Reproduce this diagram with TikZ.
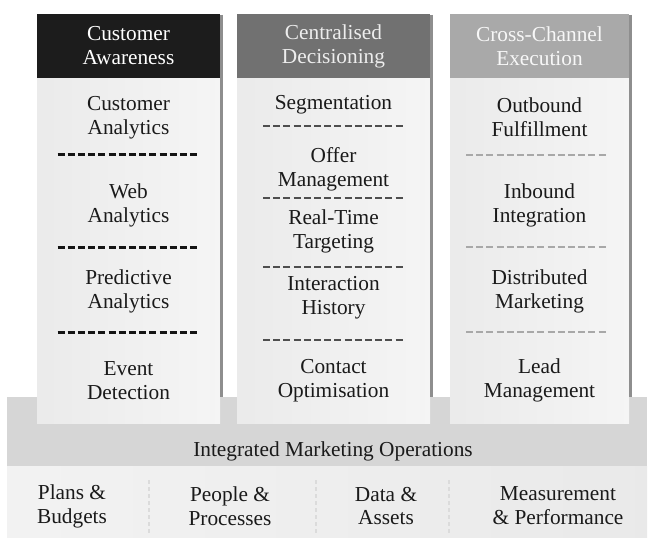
\documentclass[tikz,border=0pt]{standalone}
\usepackage{fontspec}
\setmainfont{Liberation Serif}
\definecolor{hdrA}{HTML}{1C1C1C}
\definecolor{hdrB}{HTML}{717171}
\definecolor{hdrC}{HTML}{A9A9A9}
\definecolor{bandgray}{HTML}{D6D6D6}
\definecolor{shadowgray}{HTML}{8E8E8E}
\definecolor{sepA}{HTML}{141414}
\definecolor{sepB}{HTML}{4E4E4E}
\definecolor{sepC}{HTML}{A8A8A8}
\definecolor{inktext}{HTML}{1A1A1A}
\begin{document}
\begin{tikzpicture}[x=1bp,y=-1bp,
  lbl/.style={align=center,inner sep=0pt,text=inktext,
              font=\fontsize{21.4}{24}\selectfont},
  hdrtext/.style={lbl,text=#1},
  rowsep/.style={dash pattern=on 7bp off 3.2bp,line width=2bp,draw=#1},
  basesep/.style={dash pattern=on 4bp off 3bp,line width=1.6bp,draw=gray!28},
  colbody/.style={left color=gray!16,middle color=white,right color=gray!8},
]
\useasboundingbox (0,0) rectangle (650,541);

% operations band underneath the three pillars
\fill[bandgray] (7,397) rectangle (647,466);
\fill[left color=gray!10,middle color=gray!4,right color=gray!17] (7,466) rectangle (647,537);

% three pillars: body, header and right-hand shadow
\foreach \l/\r/\hc in {37/220/hdrA, 237/430/hdrB, 450/629/hdrC} {
  \fill[colbody] (\l,78) rectangle (\r,423);
  \fill[\hc] (\l,14) rectangle (\r,78);
  \draw[shadowgray,line width=2.6bp] (\r+1.3,15) -- (\r+1.3,397);
}

% headers
\node[hdrtext=white] (hA) at (128.5,46) {Customer\\Awareness};
\node[hdrtext=gray!14] (hB) at (333.5,46) {Centralised\\Decisioning};
\node[hdrtext=gray!6] (hC) at (539.5,46) {Cross-Channel\\Execution};

% customer awareness
\node[lbl] (a1) at (128.5,117.5) {Customer\\Analytics};
\node[lbl] (a2) at (128.5,205) {Web\\Analytics};
\node[lbl] (a3) at (128.5,291.5) {Predictive\\Analytics};
\node[lbl] (a4) at (128.5,380.5) {Event\\Detection};
\foreach \y in {155,247,332}
  \draw[rowsep=sepA,line width=3bp] (57.5,\y) -- (199.5,\y);

% centralised decisioning
\node[lbl] (b1) at (333.5,104.5) {Segmentation};
\node[lbl] (b2) at (333.5,169.5) {Offer\\Management};
\node[lbl] (b3) at (333.5,231.5) {Real-Time\\Targeting};
\node[lbl] (b4) at (333.5,298) {Interaction\\History};
\node[lbl] (b5) at (333.5,380.5) {Contact\\Optimisation};
\foreach \y in {126,198,267,340}
  \draw[rowsep=sepB,line width=2.2bp] (263,\y) -- (404,\y);

% cross-channel execution
\node[lbl] (c1) at (539.5,117.5) {Outbound\\Fulfillment};
\node[lbl] (c2) at (539.5,205) {Inbound\\Integration};
\node[lbl] (c3) at (539.5,291.5) {Distributed\\Marketing};
\node[lbl] (c4) at (539.5,380.5) {Lead\\Management};
\foreach \y in {155,247,332}
  \draw[rowsep=sepC,line width=2.2bp] (466,\y) -- (607,\y);

% integrated marketing operations
\node[lbl] (imo) at (333,451) {Integrated Marketing Operations};
\node[lbl] (o1) at (72,506) {Plans \&\\Budgets};
\node[lbl] (o2) at (230,506) {People \&\\Processes};
\node[lbl] (o3) at (386,506) {Data \&\\Assets};
\node[lbl] (o4) at (558,506) {Measurement\\\& Performance};
\foreach \x in {149,316,449}
  \draw[basesep] (\x,480) -- (\x,533);
\end{tikzpicture}
\end{document}
